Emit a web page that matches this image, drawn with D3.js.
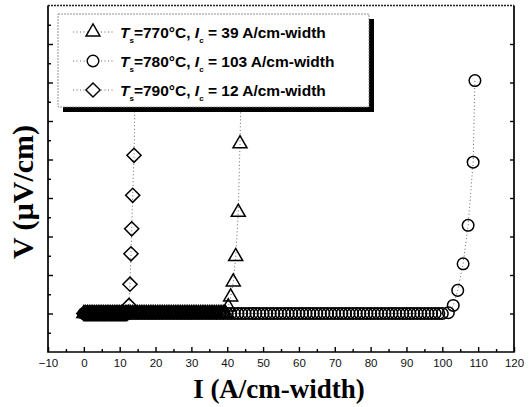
<!DOCTYPE html>
<html><head><meta charset="utf-8">
<script src="https://cdn.jsdelivr.net/npm/d3@7"></script>
<style>body{margin:0;background:#fff}</style></head>
<body>
<svg id="c" width="529" height="407"></svg>
<script>
// ---- data ----
const xMajorTicks = [-10,0,10,20,30,40,50,60,70,80,90,100,110,120];
const xMinorTicks = [-5,5,15,25,35,45,55,65,75,85,95,105,115];
const yMajorTicks = [0,1,2,3,4,5,6,7];
const yMinorTicks = [-0.5,0.5,1.5,2.5,3.5,4.5,5.5,6.5,7.5];

// Ts=770°C, Ic = 39 A/cm-width (triangles)
const triI = [0,0.5,1,1.5,2,2.5,3,3.5,4,4.5,5,5.5,6,6.5,7,7.5,8,8.5,9,9.5,10,10.5,11,11.5,12,12.5,13,13.5,14,14.5,
  15,15.5,16,16.5,17,17.5,18,18.5,19,19.5,20,20.5,21,21.5,22,22.5,23,23.5,24,24.5,25,25.5,26,26.5,27,27.5,28,28.5,29,29.5,
  30,30.5,31,31.5,32,32.5,33,33.5,34,34.5,35,35.5,36,36.5,37,37.5,38,38.5,39,39.5,
  40.29,40.96,41.69,42.36,43.08,43.56,44.1];
const triV = [0,0,0,0,0,0,0,0,0,0,0,0,0,0,0,0,0,0,0,0,0,0,0,0,0,0,0,0,0,0,
  0,0,0,0,0,0,0,0,0,0,0,0,0,0,0,0,0,0,0,0,0,0,0,0,0,0,0,0,0,0,
  0,0,0,0,0,0,0,0,0,0,0,0,0,0,0,0,0,0,0,0,
  0.17,0.43,0.82,1.48,2.63,4.41,6.9];

// Ts=780°C, Ic = 103 A/cm-width (circles)
const circI = [0,1,2,3,4,5,6,7,8,9,10,11,12,13,14,15,16,17,18,19,20,21,22,23,24,25,26,27,28,29,30,31,32,33,34,35,36,37,38,39,
  40,41,42,43,44,45,46,47,48,49,50,51,52,53,54,55,56,57,58,59,60,61,62,63,64,65,66,67,68,69,70,71,72,73,74,75,76,77,78,79,
  80,81,82,83,84,85,86,87,88,89,90,91,92,93,94,95,96,97,98,99,100,
  101.7,103.05,104.3,105.8,107.2,108.6,109.1];
const circV = [0,0,0,0,0,0,0,0,0,0,0,0,0,0,0,0,0,0,0,0,0,0,0,0,0,0,0,0,0,0,0,0,0,0,0,0,0,0,0,0,
  0,0,0,0,0,0,0,0,0,0,0,0,0,0,0,0,0,0,0,0,0,0,0,0,0,0,0,0,0,0,0,0,0,0,0,0,0,0,0,0,
  0,0,0,0,0,0,0,0,0,0,0,0,0,0,0,0,0,0,0,0,0,
  0.02,0.21,0.60,1.29,2.29,3.93,6.05];

// Ts=790°C, Ic = 12 A/cm-width (diamonds)
const diaI = [0,0.25,0.5,0.75,1,1.25,1.5,1.75,2,2.25,2.5,2.75,3,3.25,3.5,3.75,4,4.25,4.5,4.75,5,5.25,5.5,5.75,
  6,6.25,6.5,6.75,7,7.25,7.5,7.75,8,8.25,8.5,8.75,9,9.25,9.5,9.75,10,10.25,10.5,10.75,11,11.25,11.5,11.75,12,
  12.4,12.6,12.87,13.15,13.35,13.63,13.99,14.4];
const diaV = [0,0,0,0,0,0,0,0,0,0,0,0,0,0,0,0,0,0,0,0,0,0,0,0,
  0,0,0,0,0,0,0,0,0,0,0,0,0,0,0,0,0,0,0,0,0,0,0,0,0,
  0.03,0.21,0.76,1.55,2.20,3.07,4.11,6.3];

const legendTemps = ["770","780","790"];
const legendIc = ["39","103","12"];

// ---- drawing ----
const svg = d3.select("#c");
const L = 48, R = 514, T = 5.5, B = 352;
const x = d3.scaleLinear().domain([-10,120]).range([L,R]);
const y = d3.scaleLinear().domain([-1,8]).range([B,T]);

svg.append("defs").append("clipPath").attr("id","clip")
  .append("rect").attr("x",L).attr("y",T).attr("width",R-L).attr("height",B-T);

// axes ticks
const gxMaj = svg.append("g").attr("transform",`translate(0,${B})`)
  .call(d3.axisBottom(x).tickValues(xMajorTicks).tickSize(-5).tickPadding(7).tickFormat(d3.format("d")));
svg.append("g").attr("transform",`translate(0,${B})`)
  .call(d3.axisBottom(x).tickValues(xMinorTicks).tickSize(-3).tickFormat(""));
svg.append("g").attr("transform",`translate(${L},0)`)
  .call(d3.axisLeft(y).tickValues(yMajorTicks).tickSize(-5).tickFormat(""));
svg.append("g").attr("transform",`translate(${L},0)`)
  .call(d3.axisLeft(y).tickValues(yMinorTicks).tickSize(-3).tickFormat(""));
svg.append("g").attr("transform",`translate(${R},0)`)
  .call(d3.axisRight(y).tickValues(yMajorTicks).tickSize(-4).tickFormat(""));
svg.selectAll(".domain").remove();
svg.selectAll(".tick line").attr("stroke","#000").attr("stroke-width",1.4);
gxMaj.selectAll("text").attr("font-family","Liberation Sans, Arial, sans-serif")
  .attr("font-size","11.5px").attr("fill","#111");

// frame
svg.append("path").attr("d",`M${L},${T}V${B}H${R}V${T}`)
  .attr("fill","none").attr("stroke","#000").attr("stroke-width",1.7);
svg.append("line").attr("x1",L).attr("x2",R).attr("y1",T).attr("y2",T)
  .attr("stroke","#222").attr("stroke-width",1.4).attr("stroke-dasharray","2,1");

// series
const series = [
  {I:circI, V:circV, type:d3.symbolCircle, size:105, rot:0},
  {I:triI, V:triV, type:d3.symbolTriangle, size:85, rot:0},
  {I:diaI, V:diaV, type:d3.symbolSquare, size:100, rot:45}
];
const plot = svg.append("g").attr("clip-path","url(#clip)");
const line = d3.line().x(d=>x(d[0])).y(d=>y(d[1]));
series.forEach(s=>{
  const pts = s.I.map((v,i)=>[v,s.V[i]]);
  plot.append("path").datum(pts).attr("d",line).attr("fill","none")
    .attr("stroke","#666").attr("stroke-width",1).attr("stroke-dasharray","1,2.5");
});
series.forEach(s=>{
  const pts = s.I.map((v,i)=>[v,s.V[i]]);
  plot.selectAll(null).data(pts).enter().append("path")
    .attr("d",d3.symbol().type(s.type).size(s.size))
    .attr("transform",d=>`translate(${x(d[0])},${y(d[1])}) rotate(${s.rot})`)
    .attr("fill","none").attr("stroke","#000").attr("stroke-width",1.5);
});

// legend
const lg = svg.append("g");
lg.append("rect").attr("x",63).attr("y",19).attr("width",311).attr("height",93).attr("fill","#000");
lg.append("rect").attr("x",58).attr("y",14).attr("width",311).attr("height",93)
  .attr("fill","#fff").attr("stroke","#777").attr("stroke-width",0.8).attr("stroke-dasharray","2,1");
const rowsY = [32,61,90];
const legSym = [
  {type:d3.symbolTriangle,size:85,rot:0},
  {type:d3.symbolCircle,size:105,rot:0},
  {type:d3.symbolSquare,size:100,rot:45}
];
rowsY.forEach((ry,i)=>{
  lg.append("line").attr("x1",73).attr("x2",114).attr("y1",ry).attr("y2",ry)
    .attr("stroke","#666").attr("stroke-width",1).attr("stroke-dasharray","1,2.5");
  lg.append("path").attr("d",d3.symbol().type(legSym[i].type).size(legSym[i].size))
    .attr("transform",`translate(93,${ry}) rotate(${legSym[i].rot})`)
    .attr("fill","#fff").attr("stroke","#000").attr("stroke-width",1.4);
  const t = lg.append("text").attr("x",120).attr("y",ry+5.5)
    .attr("font-family","Liberation Sans, Arial, sans-serif").attr("font-weight","bold")
    .attr("font-size","15.5px").attr("fill","#000");
  t.append("tspan").attr("font-style","italic").text("T");
  t.append("tspan").attr("dy",5).attr("font-size","8px").text("s");
  t.append("tspan").attr("dy",-5).text("="+legendTemps[i]+"°C, ");
  t.append("tspan").attr("font-style","italic").text("I");
  t.append("tspan").attr("dy",5).attr("font-size","8px").text("c");
  t.append("tspan").attr("dy",-5).text(" = "+legendIc[i]+" A/cm-width");
});

// axis titles
svg.append("text").attr("x",279).attr("y",398).attr("text-anchor","middle")
  .attr("font-family","Liberation Serif, Times New Roman, serif").attr("font-weight","bold")
  .attr("font-size","27px").text("I (A/cm-width)");
svg.append("text").attr("transform","translate(33,192) rotate(-90)").attr("text-anchor","middle")
  .attr("font-family","Liberation Serif, Times New Roman, serif").attr("font-weight","bold")
  .attr("font-size","30px").text("V (µV/cm)");
</script>
</body></html>
